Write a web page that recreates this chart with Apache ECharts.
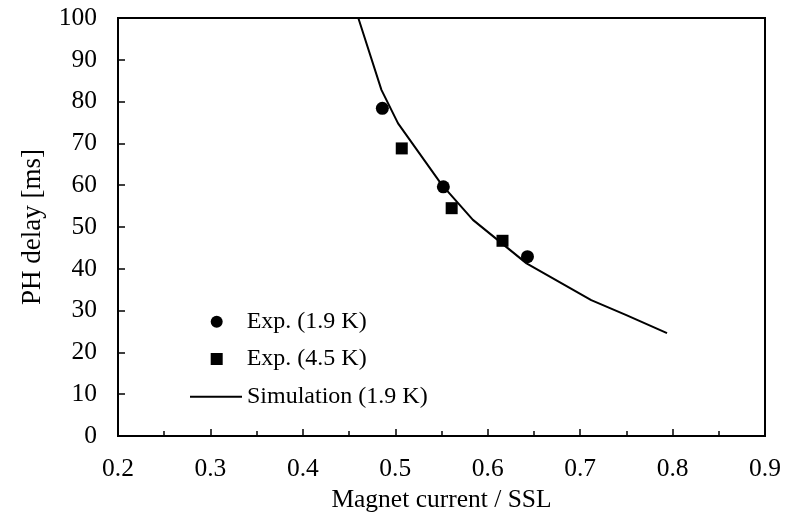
<!DOCTYPE html>
<html>
<head>
<meta charset="utf-8">
<script src="https://cdn.jsdelivr.net/npm/echarts@6/dist/echarts.min.js"></script>
<style>html,body{margin:0;padding:0;background:#fff}#c{width:801px;height:513px}</style>
</head>
<body>
<div id="c"></div>
<script>
var exp19X = [0.486, 0.552, 0.643];
var exp19Y = [78.4, 59.6, 42.9];
var exp45X = [0.507, 0.561, 0.616];
var exp45Y = [68.8, 54.5, 46.7];
var simX = [0.460, 0.485, 0.503, 0.550, 0.584, 0.642, 0.712, 0.750, 0.794];
var simY = [100.0, 82.8, 74.8, 60.2, 51.7, 41.3, 32.5, 28.9, 24.6];
var names = ['Exp. (1.9 K)', 'Exp. (4.5 K)', 'Simulation (1.9 K)'];

function pairs(xs, ys) { return xs.map(function (x, i) { return [x, ys[i]]; }); }

var FONT = 'Liberation Serif';
var chart = echarts.init(document.getElementById('c'), null, {renderer: 'canvas'});
var legendText = {fontFamily: FONT, fontSize: 24, color: '#000', lineHeight: 26, padding: [0, 0, 0, 19]};
chart.setOption({
  animation: false,
  grid: {left: 118, right: 36, top: 18, bottom: 77, show: true, borderColor: '#000', borderWidth: 2,
    containLabel: false, outerBoundsMode: 'none'},
  xAxis: {
    type: 'value', min: 0.2, max: 0.9, interval: 0.1,
    name: 'Magnet current / SSL', nameLocation: 'middle', nameGap: 48,
    nameTextStyle: {fontFamily: FONT, fontSize: 25.5, color: '#000'},
    axisLine: {show: true, lineStyle: {color: '#000', width: 2}},
    axisTick: {show: true, inside: true, length: 7, lineStyle: {color: '#000', width: 1.5}},
    minorTick: {show: true, splitNumber: 2, length: 5, lineStyle: {color: '#000', width: 1.5}},
    splitLine: {show: false},
    axisLabel: {fontFamily: FONT, fontSize: 25.5, color: '#000', margin: 20,
      formatter: function (v) { return v.toFixed(1); }}
  },
  yAxis: {
    type: 'value', min: 0, max: 100, interval: 10,
    name: 'PH delay [ms]', nameLocation: 'middle', nameGap: 72,
    nameTextStyle: {fontFamily: FONT, fontSize: 27, color: '#000'},
    axisLine: {show: true, lineStyle: {color: '#000', width: 2}},
    axisTick: {show: true, inside: true, length: 7, lineStyle: {color: '#000', width: 1.5}},
    splitLine: {show: false},
    axisLabel: {fontFamily: FONT, fontSize: 25.5, color: '#000', margin: 21}
  },
  legend: [
    {data: [{name: names[0], icon: 'circle'}], left: 210.7, top: 308.7, padding: 0, itemWidth: 12, itemHeight: 12, textStyle: legendText},
    {data: [{name: names[1], icon: 'rect'}], left: 210.7, top: 346, padding: 0, itemWidth: 12, itemHeight: 12, textStyle: legendText},
    {data: [{name: names[2], icon: 'rect'}], left: 190, top: 383.7, padding: 0, itemWidth: 52, itemHeight: 2,
      textStyle: {fontFamily: FONT, fontSize: 24, color: '#000', lineHeight: 26}}
  ],
  series: [
    {name: names[2], type: 'line', data: pairs(simX, simY), symbol: 'none', showSymbol: false,
      lineStyle: {color: '#000', width: 2}, itemStyle: {color: '#000', opacity: 1}, z: 2, clip: true},
    {name: names[0], type: 'scatter', data: pairs(exp19X, exp19Y), symbol: 'circle', symbolSize: 13,
      itemStyle: {color: '#000', opacity: 1}, z: 3},
    {name: names[1], type: 'scatter', data: pairs(exp45X, exp45Y), symbol: 'rect', symbolSize: 12,
      itemStyle: {color: '#000', opacity: 1}, z: 3}
  ]
});
</script>
</body>
</html>
